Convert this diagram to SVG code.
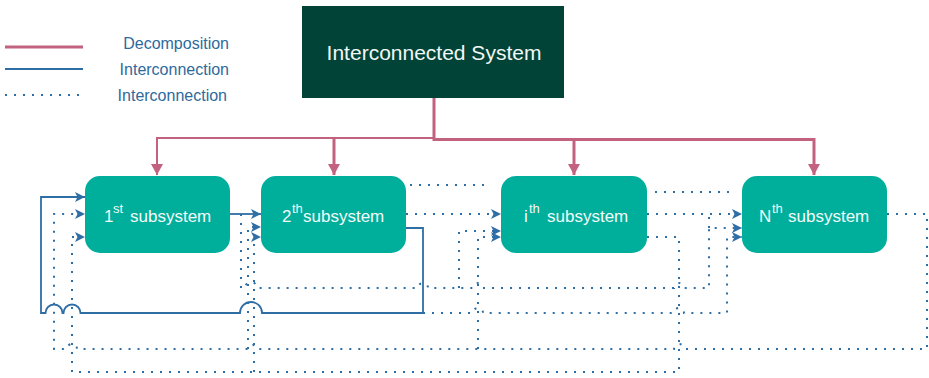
<svg xmlns="http://www.w3.org/2000/svg" width="929" height="378" viewBox="0 0 929 378">
<defs>
<style>
text{font-family:"Liberation Sans",Arial,sans-serif}
.leg{fill:#2E6A9C;font-size:16px;text-anchor:end}
.sub{fill:#F2FBF9;font-size:17px}
.sup{font-size:13px}
.box{fill:#00AE9C}
.dec{fill:none;stroke:#C2627F}
.sol{fill:none;stroke:#2F6EA5;stroke-width:1.8}
.dot{fill:none;stroke:#2F6EA5;stroke-width:2;stroke-dasharray:2 7}
.arr{marker-end:url(#ab)}
</style>
<marker id="ab" markerUnits="userSpaceOnUse" markerWidth="11" markerHeight="11" refX="10" refY="5" orient="auto">
<path d="M0,0 L10,5 L0,10 L2.5,5 z" fill="#2F6EA5"/>
</marker>
<marker id="ap" markerUnits="userSpaceOnUse" markerWidth="13" markerHeight="13" refX="11" refY="6" orient="auto">
<path d="M0,0 L11,6 L0,12 z" fill="#C2627F"/>
</marker>
</defs>
<rect width="929" height="378" fill="#FFFFFF"/>

<g id="legend">
<line x1="5" y1="47" x2="83" y2="47" stroke="#C2627F" stroke-width="3.2"/>
<text class="leg" x="229" y="49">Decomposition</text>
<line x1="5" y1="69" x2="83" y2="69" stroke="#2F6EA5" stroke-width="1.8"/>
<text class="leg" x="229" y="75">Interconnection</text>
<line x1="5" y1="95" x2="82" y2="95" stroke="#2F6EA5" stroke-width="2" stroke-dasharray="2 7"/>
<text class="leg" x="227" y="101">Interconnection</text>
</g>

<g id="connectors">
<path class="dec" stroke-width="2" d="M434,138 H157 V175" marker-end="url(#ap)"/>
<path class="dec" stroke-width="3" d="M334,138 V175" marker-end="url(#ap)"/>
<path class="dec" stroke-width="3" d="M434,98 V139.5 H814 V175" marker-end="url(#ap)"/>
<path class="dec" stroke-width="3" d="M574,139.5 V175" marker-end="url(#ap)"/>

<path class="sol arr" d="M230,214 H261"/>
<path class="sol arr" d="M406,228 H423 V313 H262 A11,11 0 0 0 240,313 H80.5 A8.5,8.5 0 0 0 63.5,313 H62.5 A8.5,8.5 0 0 0 45.5,313 H41 V197 H85"/>

<path class="dot arr" d="M241,214 V288 H245 A6,6 0 0 1 257,288 H418 A5,5 0 0 1 428,288 H473 A5,5 0 0 1 483,288 H674 A5,5 0 0 1 684,288 H709 V228 H742"/>
<path class="dot" d="M709,228 V214"/>
<path class="dot arr" d="M459,288 V231 H501"/>
<path class="dot arr" d="M406,214 H501"/>
<path class="dot arr" d="M423,313 H473 A5,5 0 0 1 483,313 H674 A5,5 0 0 1 684,313 H727 V237 H742"/>
<path class="dot arr" d="M647,214 H742"/>
<path class="dot arr" d="M647,237 H679 V372 H72 V237 H85"/>
<path class="dot arr" d="M254,372 V237 H261"/>
<path class="dot arr" d="M887,214 H927 V349 H684 A5,5 0 0 0 674,349 H258 A4,4 0 0 0 250,349 H77 A5,5 0 0 0 67,349 H54 V214 H85"/>
<path class="dot arr" d="M478,349 V237 H501"/>
<path class="dot arr" d="M248,349 V227 H261"/>
<path class="dot" d="M410,185 H487"/>
<path class="dot" d="M655,192 H730"/>
</g>

<g id="system">
<rect x="302" y="6" width="262" height="92" fill="#014437"/>
<text x="434" y="60" fill="#F2F7F5" font-size="21" text-anchor="middle">Interconnected System</text>
</g>

<g id="sub1">
<rect class="box" x="85" y="176" width="145" height="77" rx="15"/>
<text class="sub"><tspan x="104" y="222">1</tspan><tspan class="sup" x="113" y="213">st</tspan><tspan x="130" y="222">subsystem</tspan></text>
</g>
<g id="sub2">
<rect class="box" x="261" y="176" width="145" height="77" rx="15"/>
<text class="sub"><tspan x="282" y="222">2</tspan><tspan class="sup" x="292" y="213">th</tspan><tspan x="303" y="222">subsystem</tspan></text>
</g>
<g id="subi">
<rect class="box" x="501" y="176" width="146" height="77" rx="15"/>
<text class="sub"><tspan x="524" y="222">i</tspan><tspan class="sup" x="529" y="213">th</tspan><tspan x="547" y="222">subsystem</tspan></text>
</g>
<g id="subN">
<rect class="box" x="742" y="176" width="145" height="77" rx="15"/>
<text class="sub"><tspan x="759" y="222">N</tspan><tspan class="sup" x="772" y="213">th</tspan><tspan x="788" y="222">subsystem</tspan></text>
</g>
</svg>
